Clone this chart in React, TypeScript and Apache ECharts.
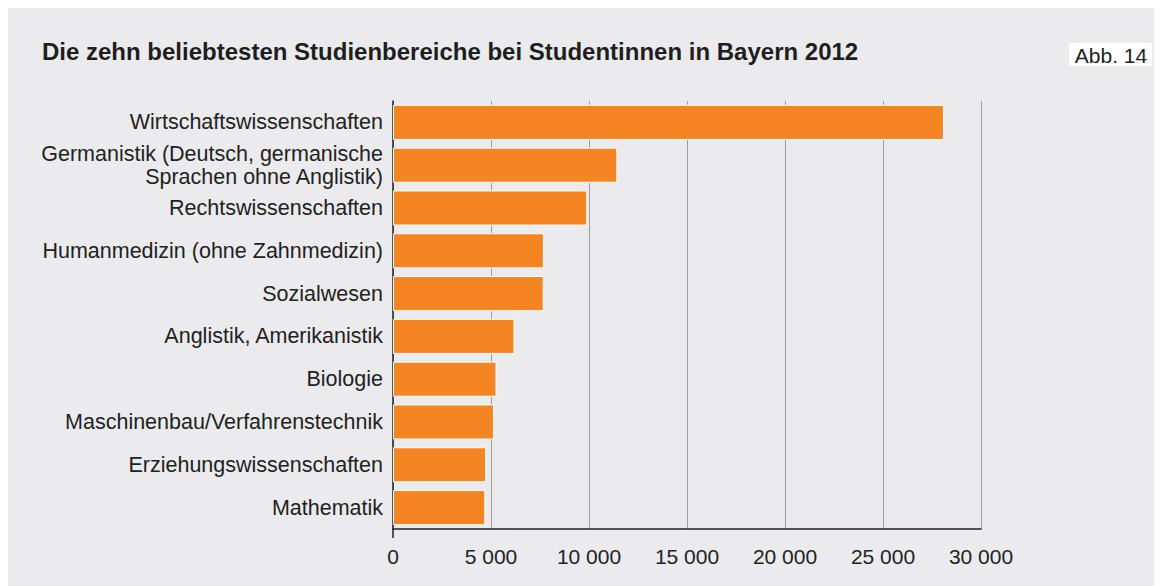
import React, { useEffect, useRef } from "react";
import * as echarts from "echarts";

const titleText = "Die zehn beliebtesten Studienbereiche bei Studentinnen in Bayern 2012";
const figureLabel = "Abb. 14";
const categories = [
  "Wirtschaftswissenschaften",
  "Germanistik (Deutsch, germanische\nSprachen ohne Anglistik)",
  "Rechtswissenschaften",
  "Humanmedizin (ohne Zahnmedizin)",
  "Sozialwesen",
  "Anglistik, Amerikanistik",
  "Biologie",
  "Maschinenbau/Verfahrenstechnik",
  "Erziehungswissenschaften",
  "Mathematik",
];
const values = [28110, 11450, 9910, 7700, 7690, 6200, 5280, 5150, 4750, 4710];
const xMin = 0;
const xMax = 30000;
const xInterval = 5000;

const FONT = "'Liberation Sans', Arial, Helvetica, sans-serif";

export default function App() {
  const ref = useRef<HTMLDivElement>(null);
  useEffect(() => {
    if (!ref.current) return;
    const chart = echarts.init(ref.current, undefined, { renderer: "svg" });
    const option: any = {
      animation: false,
      backgroundColor: "#ebebed",
      textStyle: { fontFamily: FONT },
      title: {
        text: titleText,
        left: 29,
        top: 26,
        textStyle: { fontFamily: FONT, fontSize: 24, fontWeight: "bold", color: "#1e1e1e" },
      },
      grid: { left: 385, right: 175, top: 93, bottom: 57, containLabel: false },
      xAxis: {
        type: "value",
        min: xMin,
        max: xMax,
        interval: xInterval,
        axisLine: { show: true, lineStyle: { color: "#222", width: 1.5 } },
        axisTick: { show: false },
        splitLine: { show: true, lineStyle: { color: "#9e9e9e", width: 1 } },
        axisLabel: {
          fontFamily: FONT,
          fontSize: 21,
          color: "#222",
          margin: 17,
          formatter: (v: number) => String(v).replace(/\B(?=(\d{3})+(?!\d))/g, " "),
        },
      },
      yAxis: {
        type: "category",
        inverse: true,
        data: categories,
        axisLine: { show: true, lineStyle: { color: "#222", width: 1.5 } },
        axisTick: { show: false },
        axisLabel: {
          fontFamily: FONT,
          fontSize: 21.5,
          color: "#222",
          margin: 10,
          lineHeight: 23,
          align: "right",
        },
      },
      series: [
        {
          type: "bar",
          data: values,
          barCategoryGap: "18%",
          itemStyle: { color: "#f58523", borderColor: "#ffffff", borderWidth: 1 },
        },
      ],
    };
    chart.setOption(option);
    const p0 = chart.convertToPixel({ xAxisIndex: 0, yAxisIndex: 0 } as any, [xMin, categories.length - 1]) as number[];
    const axisY = 578 - 57;
    chart.setOption({
      graphic: [
        {
          type: "line",
          shape: { x1: p0[0], y1: axisY, x2: p0[0], y2: axisY + 9 },
          style: { stroke: "#222", lineWidth: 1.5 },
        },
        {
          type: "group",
          left: 1061,
          top: 35,
          children: [
            { type: "rect", shape: { x: 0, y: 0, width: 83, height: 23 }, style: { fill: "#ffffff" } },
            {
              type: "text",
              x: 42,
              y: 12,
              style: {
                text: figureLabel,
                font: `21px ${FONT}`,
                fill: "#222",
                textAlign: "center",
                textVerticalAlign: "middle",
              },
            },
          ],
        },
      ],
    });
    return () => chart.dispose();
  }, []);
  return <div ref={ref} style={{ width: 1148, height: 578 }} />;
}
